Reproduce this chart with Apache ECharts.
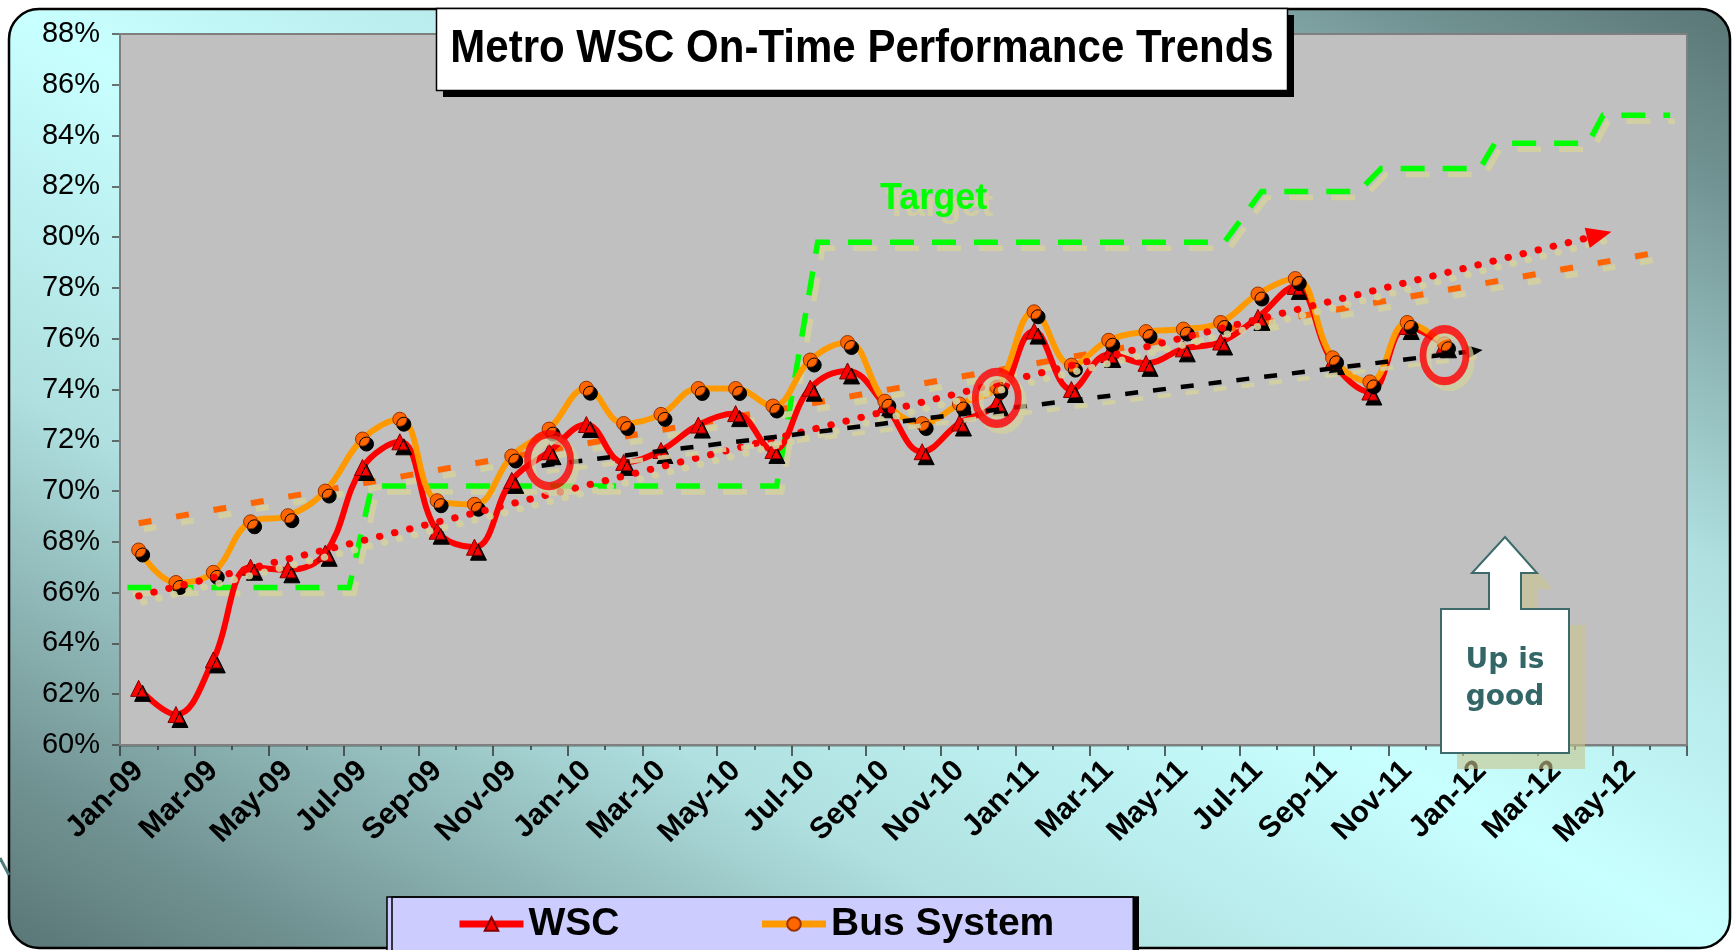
<!DOCTYPE html>
<html>
<head>
<meta charset="utf-8">
<title>Metro WSC On-Time Performance Trends</title>
<script src="https://cdn.jsdelivr.net/npm/echarts@6/dist/echarts.min.js"></script>
<style>
  html, body { margin: 0; padding: 0; background: #fff; }
  #chart { width: 1733px; height: 950px; }
</style>
</head>
<body>
<div id="chart"></div>
<script>
// date axis, one bin per month
const months = [
  'Jan-09', 'Feb-09', 'Mar-09', 'Apr-09', 'May-09', 'Jun-09', 'Jul-09', 'Aug-09', 'Sep-09', 'Oct-09', 'Nov-09', 'Dec-09',
  'Jan-10', 'Feb-10', 'Mar-10', 'Apr-10', 'May-10', 'Jun-10', 'Jul-10', 'Aug-10', 'Sep-10', 'Oct-10', 'Nov-10', 'Dec-10',
  'Jan-11', 'Feb-11', 'Mar-11', 'Apr-11', 'May-11', 'Jun-11', 'Jul-11', 'Aug-11', 'Sep-11', 'Oct-11', 'Nov-11', 'Dec-11',
  'Jan-12', 'Feb-12', 'Mar-12', 'Apr-12', 'May-12', 'Jun-12'
]

// on-time %, Jan-09 .. Dec-11
const wsc = [
  62.23, 61.2, 63.35, 67.0, 66.9, 67.55, 70.93, 71.94, 68.42, 67.79, 70.42, 71.55,
  72.62, 71.13, 71.6, 72.6, 73.05, 71.6, 74.05, 74.73, 73.4, 71.55, 72.68, 73.47,
  76.3, 74.0, 75.38, 75.03, 75.6, 75.87, 76.84, 78.06, 75.1, 73.9, 76.48, 75.76
]
const busSystem = [
  67.68, 66.4, 66.8, 68.79, 69.03, 70.0, 72.05, 72.83, 69.62, 69.48, 71.38, 72.44,
  74.05, 72.66, 73.02, 74.04, 74.04, 73.35, 75.16, 75.85, 73.54, 72.66, 73.43, 74.1,
  77.06, 74.96, 75.94, 76.28, 76.38, 76.64, 77.76, 78.37, 75.25, 74.3, 76.64, 75.8
]

// target steps as [months since Jan-09, %]
const target = [
  [0.2, 66.2], [6.14, 66.2], [6.75, 70.2], [17.6, 70.2], [18.7, 79.8], [29.6, 79.8],
  [30.6, 81.8], [33.2, 81.8], [33.8, 82.7], [36.45, 82.7], [36.85, 83.7], [39.35, 83.7],
  [39.75, 84.8], [41.55, 84.8]
]

// trendline ends
const wscTrend = [[0.5, 65.87], [39.65, 80.09]]
const busTrend = [[0.5, 68.73], [41.6, 79.5]]
const recentTrend = [[11.3, 71.0], [36.31, 75.52]]

// circled months: Dec-09, Dec-10, Dec-11
const highlights = [[11.5, 71.22], [23.5, 73.67], [35.5, 75.35]]

const yMin = 60
const yMax = 88
const yStep = 2

const FONT = '"Liberation Sans", Arial, sans-serif'
const KHAKI = 'rgba(212, 208, 158, 0.9)'

const chart = echarts.init(document.getElementById('chart'))

const shadowed = {
  shadowColor: KHAKI,
  shadowOffsetX: 5,
  shadowOffsetY: 6,
  shadowBlur: 0,
}

const bgFill = new echarts.graphic.LinearGradient(474.6, 1202, 1264.4, -245, [
  { offset: 0, color: '#5a7676' },
  { offset: 0.1, color: '#739494' },
  { offset: 0.3, color: '#b0e0e0' },
  { offset: 0.5, color: '#c8ffff' },
  { offset: 0.7, color: '#b0e0e0' },
  { offset: 0.9, color: '#739494' },
  { offset: 1, color: '#5a7676' },
], true)

function tickAxis(interval, len) {
  return {
    type: 'category',
    data: months,
    position: 'bottom',
    gridIndex: 0,
    boundaryGap: true,
    offset: -len / 2,
    axisLine: { show: false },
    axisLabel: { show: false },
    splitLine: { show: false },
    axisTick: { show: true, interval: interval, length: len, lineStyle: { color: '#333', width: 1.5 } },
  }
}

const calloutPoints = [
  [1505, 537], [1537, 573], [1521, 573], [1521, 609], [1569, 609], [1569, 753],
  [1441, 753], [1441, 609], [1489, 609], [1489, 573], [1472, 573]
]

const option = {
  animation: false,
  backgroundColor: '#fff',
  textStyle: { fontFamily: FONT },
  grid: {
    left: 120,
    right: 46,
    top: 34,
    bottom: 205,
    containLabel: false,
    outerBoundsMode: 'none',
    show: true,
    backgroundColor: '#c0c0c0',
    borderColor: '#7f7f7f',
    borderWidth: 2,
    z: 1,
  },
  legend: {
    data: ['WSC', 'Bus System'],
    left: 387,
    top: 897,
    orient: 'horizontal',
    itemWidth: 64,
    itemHeight: 17,
    itemGap: 139,
    padding: [7, 79, 20, 69],
    backgroundColor: '#ccccff',
    borderColor: '#000',
    borderWidth: 1.5,
    borderRadius: 0,
    shadowColor: '#000',
    shadowOffsetX: 5,
    shadowOffsetY: 0,
    shadowBlur: 0,
    selectedMode: false,
    lineStyle: { width: 7 },
    textStyle: { fontFamily: FONT, fontSize: 39, fontWeight: 'bold', color: '#000', lineHeight: 40 },
    z: 20,
  },
  xAxis: [
    {
      type: 'category',
      data: months,
      position: 'bottom',
      gridIndex: 0,
      boundaryGap: true,
      axisLine: { show: true, lineStyle: { color: '#404040', width: 2 } },
      axisTick: { show: false },
      splitLine: { show: false },
      axisLabel: {
        interval: 1,
        rotate: 45,
        margin: 21,
        hideOverlap: false,
        fontFamily: FONT,
        fontSize: 30,
        fontWeight: 'bold',
        color: '#000',
      },
    },
    tickAxis(1, 22),
    tickAxis(0, 10),
    { type: 'value', gridIndex: 0, min: 0, max: 42, show: false },
  ],
  yAxis: {
    type: 'value',
    min: yMin,
    max: yMax,
    interval: yStep,
    axisLine: { show: true, lineStyle: { color: '#666', width: 2 } },
    axisTick: { show: true, length: 8, lineStyle: { color: '#444', width: 1.5 } },
    axisLabel: { formatter: '{value}%', margin: 20, fontFamily: FONT, fontSize: 29, color: '#000' },
    splitLine: { show: true, lineStyle: { color: '#1e1e1e', width: 1.3 } },
  },
  series: [
    {
      name: 'Target',
      type: 'line',
      xAxisIndex: 3,
      data: target,
      symbol: 'none',
      silent: true,
      z: 2,
      lineStyle: Object.assign({ color: '#00ff00', width: 5.5, type: [24, 18], cap: 'butt', join: 'miter' }, shadowed),
    },
    {
      name: 'Bus trend',
      type: 'line',
      xAxisIndex: 3,
      data: busTrend,
      symbol: 'none',
      silent: true,
      z: 3,
      lineStyle: Object.assign({ color: '#ff6600', width: 6, type: [13, 25] }, shadowed),
    },
    {
      name: 'WSC trend',
      type: 'line',
      xAxisIndex: 3,
      data: wscTrend,
      symbol: 'none',
      silent: true,
      z: 3,
      lineStyle: { opacity: 0 },
      markLine: {
        silent: true,
        symbol: ['none', 'triangle'],
        symbolSize: [21, 25],
        label: { show: false },
        lineStyle: Object.assign({ color: '#ff0000', width: 7, type: [0.5, 15], cap: 'round' }, shadowed),
        data: [[{ coord: wscTrend[0] }, { coord: wscTrend[1] }]],
      },
    },
    {
      name: 'Recent trend',
      type: 'line',
      xAxisIndex: 3,
      data: recentTrend,
      symbol: 'none',
      silent: true,
      z: 3,
      lineStyle: { opacity: 0 },
      markLine: {
        silent: true,
        symbol: ['none', 'triangle'],
        symbolSize: [14, 16],
        label: { show: false },
        lineStyle: Object.assign({ color: '#000', width: 4.5, type: [13, 15] }, shadowed),
        data: [[{ coord: recentTrend[0] }, { coord: recentTrend[1] }]],
      },
    },
    {
      name: 'WSC',
      type: 'line',
      xAxisIndex: 0,
      data: wsc,
      smooth: 0.4,
      symbol: 'triangle',
      symbolSize: 16,
      color: '#ff0000',
      z: 4,
      lineStyle: { color: '#ff0000', width: 6 },
      itemStyle: {
        color: '#ff0000', borderColor: '#800000', borderWidth: 1,
        shadowColor: '#000', shadowOffsetX: 4, shadowOffsetY: 5, shadowBlur: 0,
      },
    },
    {
      name: 'Bus System',
      type: 'line',
      xAxisIndex: 0,
      data: busSystem,
      smooth: 0.4,
      symbol: 'circle',
      symbolSize: 14,
      color: '#ff9900',
      z: 4,
      lineStyle: { color: '#ff9900', width: 6 },
      itemStyle: {
        color: '#ff6600', borderColor: '#993300', borderWidth: 1,
        shadowColor: '#000', shadowOffsetX: 4, shadowOffsetY: 5, shadowBlur: 0,
      },
    },
    {
      name: 'Highlights',
      type: 'scatter',
      xAxisIndex: 3,
      data: highlights,
      symbol: 'circle',
      symbolSize: [43, 52],
      silent: true,
      z: 5,
      itemStyle: Object.assign({ color: 'rgba(0,0,0,0)', borderColor: '#ff0000', borderWidth: 7.5 }, shadowed),
    },
  ],
  graphic: {
    elements: [
      {
        type: 'rect',
        z: -10,
        silent: true,
        shape: { x: 9, y: 9, width: 1721, height: 939, r: 30 },
        style: { fill: bgFill, stroke: '#000', lineWidth: 2.5 },
      },
      {
        type: 'line',
        z: -10,
        silent: true,
        shape: { x1: 0, y1: 858, x2: 9, y2: 875 },
        style: { stroke: '#4f7a7a', lineWidth: 3 },
      },
      // title box
      {
        type: 'rect', z: 50, silent: true,
        shape: { x: 443, y: 15, width: 851, height: 82 },
        style: { fill: '#000' },
      },
      {
        type: 'rect', z: 51, silent: true,
        shape: { x: 436.5, y: 8.5, width: 851, height: 82 },
        style: { fill: '#fff', stroke: '#000', lineWidth: 1.5 },
      },
      {
        type: 'text', z: 52, silent: true,
        x: 862, y: 49.5, scaleX: 0.894,
        style: {
          text: 'Metro WSC On-Time Performance Trends',
          x: 0, y: 0,
          font: 'bold 47px ' + FONT,
          textAlign: 'center', textVerticalAlign: 'middle',
          fill: '#000',
        },
      },
      // target label
      {
        type: 'text', z: 30, silent: true,
        style: {
          text: 'Target', x: 886, y: 206,
          font: 'bold 36px ' + FONT, textAlign: 'left', textVerticalAlign: 'middle',
          fill: 'rgba(212, 208, 158, 0.85)',
        },
      },
      {
        type: 'text', z: 31, silent: true,
        style: {
          text: 'Target', x: 880, y: 199,
          font: 'bold 36px ' + FONT, textAlign: 'left', textVerticalAlign: 'middle',
          fill: '#00ff00',
        },
      },
      // "Up is good" callout
      {
        type: 'polygon', z: 40, silent: true,
        x: 16, y: 16,
        shape: { points: calloutPoints },
        style: { fill: 'rgba(200, 196, 140, 0.6)' },
      },
      {
        type: 'polygon', z: 41, silent: true,
        shape: { points: calloutPoints },
        style: { fill: '#fff', stroke: '#3d6b6b', lineWidth: 2 },
      },
      {
        type: 'text', z: 42, silent: true,
        style: {
          text: 'Up is\ngood', x: 1505, y: 679,
          font: 'bold 28px "DejaVu Sans", sans-serif', lineHeight: 37,
          textAlign: 'center', textVerticalAlign: 'middle',
          fill: '#336666',
        },
      },
    ],
  },
}

chart.setOption(option)
</script>
</body>
</html>
